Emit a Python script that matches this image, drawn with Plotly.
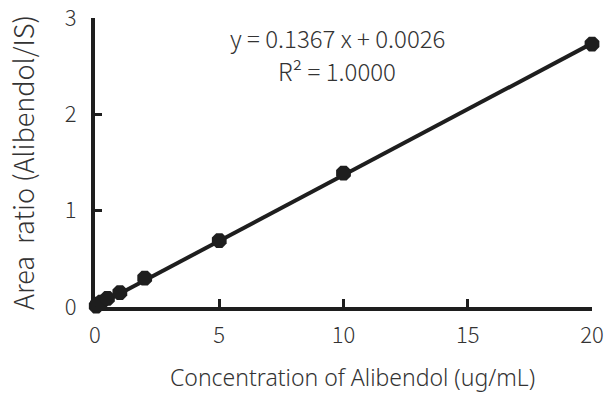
import plotly.graph_objects as go

conc = [0.05, 0.1, 0.25, 0.5, 1, 2, 5, 10, 20]
ratio = [0.01, 0.03, 0.05, 0.09, 0.15, 0.30, 0.69, 1.39, 2.73]
slope = 0.1367
intercept = 0.0026
fit_x = [0, 20]
fit_y = [intercept + slope * v for v in fit_x]

x_ticks = [0, 5, 10, 15, 20]
y_ticks = [0, 1, 2, 3]

FONT = "Noto Sans CJK KR"
TITLE_FONT = "Noto Sans"
INK = "#1e1e1e"
TXT = "#333"

W, H = 608, 393
L, R, T, B = 95, 16, 18, 86
PW, PH = W - L - R, H - T - B


def px(xp):
    return (xp - L) / PW


def py(yp):
    return (H - B - yp) / PH


fig = go.Figure()
fig.add_trace(go.Scatter(x=fit_x, y=fit_y, mode="lines",
                         line=dict(color=INK, width=4), cliponaxis=False,
                         showlegend=False))
fig.add_trace(go.Scatter(x=conc, y=ratio, mode="markers",
                         marker=dict(symbol="octagon", size=16, color=INK,
                                     line=dict(width=0)),
                         cliponaxis=False, showlegend=False))

eq_font = dict(family=FONT, size=24, color=TXT, weight=300)
fig.add_annotation(x=px(337), y=py(38), xref="paper", yref="paper",
                   text="y = 0.1367 x + 0.0026", showarrow=False,
                   yanchor="middle", font=eq_font)
fig.add_annotation(x=px(337), y=py(70), xref="paper", yref="paper",
                   text="R² = 1.0000", showarrow=False,
                   yanchor="middle", font=eq_font)

fig.add_annotation(x=px(352), y=py(377), xref="paper", yref="paper",
                   text="Concentration of Alibendol (ug/mL)", showarrow=False,
                   yanchor="middle", xanchor="center", borderpad=0,
                   font=dict(family=TITLE_FONT, size=23, color=TXT, weight=300))
fig.add_annotation(x=px(22), y=py(163), xref="paper", yref="paper",
                   text="Area&nbsp; ratio (Alibendol/IS)", showarrow=False,
                   textangle=-90, yanchor="middle", xanchor="center",
                   font=dict(family=FONT, size=27, color=TXT, weight=300))

fig.update_layout(
    width=W, height=H,
    margin=dict(l=L, r=R, t=T, b=B),
    plot_bgcolor="white", paper_bgcolor="white",
    font=dict(family=FONT, size=22, color=TXT, weight=300),
    xaxis=dict(range=[0, 20.0001], tickvals=x_ticks, ticks="inside", ticklen=8,
               tickwidth=3, tickcolor=INK, showline=True, linewidth=4,
               linecolor=INK, showgrid=False, zeroline=False,
               automargin=False, ticklabelstandoff=6,
               ticklabeloverflow="allow",
               tickfont=dict(size=22)),
    yaxis=dict(range=[0, 3.0001], tickvals=y_ticks, ticks="inside", ticklen=7,
               tickwidth=3, tickcolor=INK, showline=True, linewidth=4,
               linecolor=INK, showgrid=False, zeroline=False,
               automargin=False, ticklabelstandoff=10,
               ticklabeloverflow="allow",
               tickfont=dict(size=22)),
)

fig.write_html("out.html")
